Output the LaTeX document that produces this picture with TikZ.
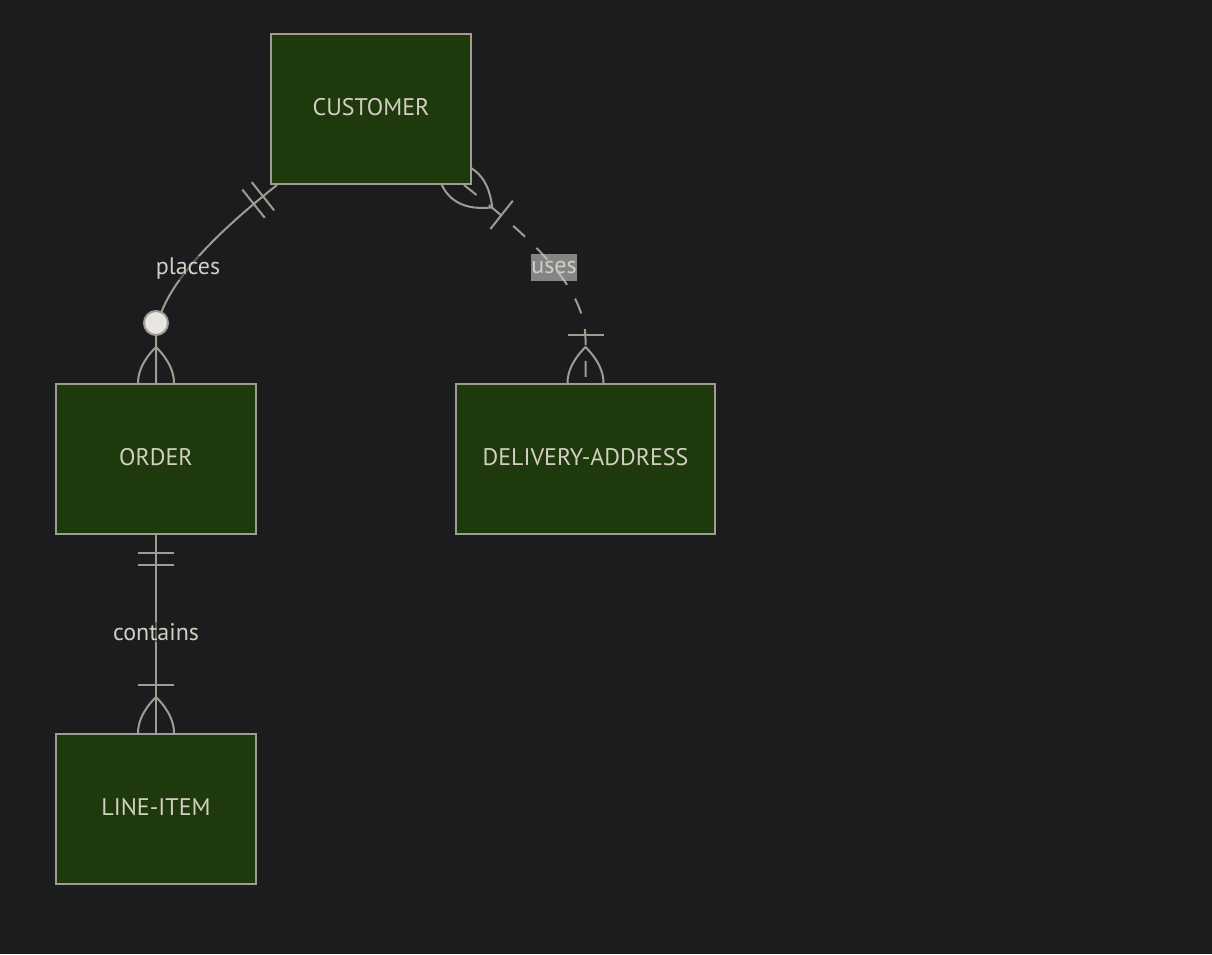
\documentclass[tikz,border=0pt]{standalone}
\usepackage{fontspec}
\setmainfont{PT Sans}
\usetikzlibrary{calc}
\pgfdeclarelayer{bg}
\pgfsetlayers{bg,main}
\definecolor{canvas}{HTML}{1B1C1E}
\definecolor{boxfill}{HTML}{1E3A0C}
\definecolor{boxline}{HTML}{A09C92}
\definecolor{boxtext}{HTML}{D2CEC2}
\definecolor{dotfill}{HTML}{E8E6E2}
\definecolor{tagfill}{HTML}{CBCBCB}
\tikzset{
    entity/.style={rectangle, draw=boxline, fill=boxfill, line width=1.5pt,
        minimum width=150pt, minimum height=112.5pt, text=boxtext, inner sep=0pt, text depth=3pt}
}
\tikzset{
    rel/.style={draw=boxline, line width=1.5pt},
    rellabel/.style={text=boxtext, fill=canvas, fill opacity=0.5, text opacity=1, inner sep=1pt}
}
% crow's foot ends, drawn along the local x axis
\newcommand{\lensline}{(-36,0) .. controls (-12,24) and (12,24) .. (36,0)
    .. controls (12,-24) and (-12,-24) .. (-36,0)}
\tikzset{
    onlyone/.pic={\draw[rel] (18,-18) -- (18,18) (30,-18) -- (30,18);},
    oneormore/.pic={\draw[rel] \lensline; \draw[rel] (48,-18) -- (48,18);},
    zeroormore/.pic={\draw[rel] \lensline; \draw[rel, fill=dotfill] (60,0) circle [radius=9pt];}
}

\begin{document}
\begin{tikzpicture}[x=0.75pt, y=-0.75pt, font=\fontsize{18}{22}\selectfont]
    \useasboundingbox (0,0) rectangle (1212,954);

    \node (cst) [entity] at (371, 109) {CUSTOMER};
    \node (ord) [entity] at (156, 459) {ORDER};
    \node (dla) [entity, minimum width=194.25pt] at (585.5, 459) {DELIVERY-ADDRESS};
    \node (lin) [entity] at (156, 809) {LINE-ITEM};

    \begin{pgfonlayer}{bg}
        \fill[canvas] (0,0) rectangle (1212,954);

        \draw[rel] ($(cst.south west)+(7,0)$) .. controls (210,238) and (160,290) .. ($(ord.north)+(0,-49)$) -- (ord.north);
        \draw[rel, dash pattern=on 12pt off 12pt] ($(cst.south east)+(-8,0)$) .. controls (540,245) and (585,290) .. ($(dla.north)+(0,-44)$) -- (dla.north);
        \draw[rel] (ord.south) -- (lin.north);

        \pic[rotate=218.5] at ($(cst.south west)+(7,0)$) {onlyone};
        \pic[rotate=90] at (ord.north) {zeroormore};
        \pic[rotate=-38.4] at ($(cst.south east)+(-8,0)$) {oneormore};
        \pic[rotate=90] at (dla.north) {oneormore};
        \pic[rotate=-90] at (ord.south) {onlyone};
        \pic[rotate=90] at (lin.north) {oneormore};
    \end{pgfonlayer}

    \node (plc) [rellabel] at (188, 268) {places};
    \node (cnt) [rellabel] at (156, 632) {contains};
    \node (use) [rellabel, fill=tagfill, fill opacity=0.6, inner sep=0pt,
        minimum height=20.25pt, minimum width=34.5pt] at (554, 267.5) {uses};
\end{tikzpicture}
\end{document}
